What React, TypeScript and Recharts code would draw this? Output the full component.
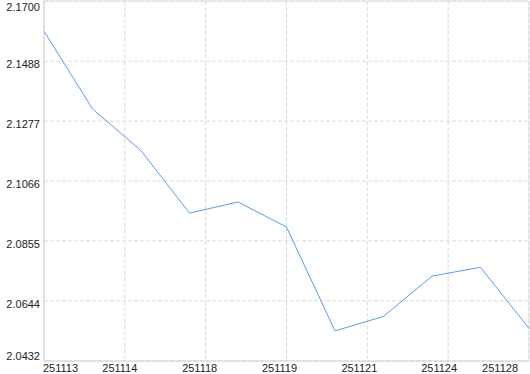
import React from "react";
import { LineChart, Line, XAxis, YAxis, CartesianGrid, ReferenceLine } from "recharts";

const values = [2.1594, 2.132, 2.1173, 2.0953, 2.0992, 2.0904, 2.0538, 2.0589, 2.0731, 2.0762, 2.0547];
const xLabels = ["251113", "251114", "251118", "251119", "251121", "251124", "251128"];
const yTicks = [2.0432, 2.0644, 2.0855, 2.1066, 2.1277, 2.1488, 2.17];

const data = values.map((v, i) => ({ i, v }));
const lastIndex = values.length - 1;
const xTicks = xLabels.map((_, k) => (k * lastIndex) / (xLabels.length - 1));

const FONT = "'Liberation Sans', Arial, sans-serif";

const YTick = (props: any) => {
  const { x, y, index, payload } = props;
  let dy = 7;
  if (index === 0) dy = -1.5;
  if (index === yTicks.length - 1) dy = 9.7;
  return (
    <text x={x - 4} y={y + dy} textAnchor="end" fontSize={11} fontFamily={FONT} fill="#222">
      {Number(payload.value).toFixed(4)}
    </text>
  );
};

const XTick = (props: any) => {
  const { x, y, index } = props;
  let anchor: "start" | "middle" | "end" = "middle";
  let tx = x - 4 - index;
  if (index === 0) {
    anchor = "start";
    tx = x - 1;
  } else if (index === xLabels.length - 1) {
    anchor = "end";
    tx = x - 11;
  }
  return (
    <text x={tx} y={y + 11} textAnchor={anchor} fontSize={11} fontFamily={FONT} fill="#222">
      {xLabels[index]}
    </text>
  );
};

export default function App() {
  return (
    <div style={{ position: "absolute", left: 0, top: 0, width: 530, height: 374, background: "#fff" }}>
      <LineChart width={530} height={374} data={data} margin={{ top: 1, right: 1, bottom: 0, left: 0 }}>
        <CartesianGrid stroke="#dcdcdc" strokeDasharray="4 2" />
        <XAxis
          dataKey="i"
          type="number"
          domain={[0, lastIndex]}
          ticks={xTicks}
          interval={0}
          height={13}
          tickLine={false}
          tickSize={0}
          tickMargin={0}
          axisLine={{ stroke: "#d0d0d0" }}
          tick={<XTick />}
        />
        <YAxis
          type="number"
          domain={[yTicks[0], yTicks[yTicks.length - 1]]}
          ticks={yTicks}
          interval={0}
          width={44}
          tickLine={false}
          tickSize={0}
          tickMargin={0}
          axisLine={{ stroke: "#d0d0d0" }}
          tick={<YTick />}
        />
        <ReferenceLine y={yTicks[yTicks.length - 1]} stroke="#dcdcdc" />
        <ReferenceLine x={lastIndex} stroke="#dcdcdc" />
        <Line
          type="linear"
          dataKey="v"
          stroke="#5a9cf0"
          strokeWidth={1}
          dot={false}
          activeDot={false}
          isAnimationActive={false}
        />
      </LineChart>
    </div>
  );
}
